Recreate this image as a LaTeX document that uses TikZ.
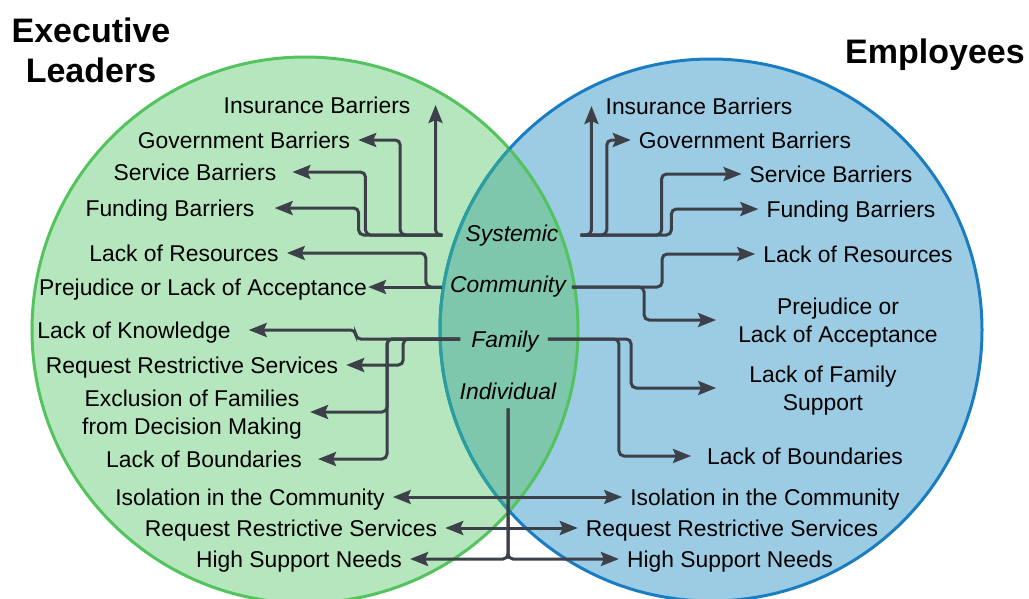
\documentclass[tikz,border=0pt]{standalone}
\usepackage{fontspec}
\setmainfont{Liberation Sans}
\usetikzlibrary{arrows.meta}

\definecolor{leadfill}{HTML}{B6E6BD}
\definecolor{leadline}{HTML}{52C35D}
\definecolor{empfill}{HTML}{9CCBE4}
\definecolor{empline}{HTML}{1B7DC1}
\definecolor{bothfill}{HTML}{7EC7AD}
\definecolor{bothline}{HTML}{2A9FA0}
\definecolor{linegray}{HTML}{3C4049}

\tikzset{
  lbl/.style={font=\fontsize{22.85}{27.5}\selectfont, inner xsep=8pt, inner ysep=2pt,
    text depth=0pt, align=center},
  cat/.style={font=\fontsize{22.85}{27.5}\selectfont\itshape, inner sep=0pt, text depth=0pt},
  ttl/.style={font=\fontsize{34}{40}\selectfont\bfseries, align=center},
  conn/.style={draw=linegray, line width=3pt, rounded corners=5pt,
    -{Stealth[length=18pt,width=14pt,inset=3pt]}},
}

\begin{document}
\begin{tikzpicture}[x=1pt,y=-1pt]
\useasboundingbox (0,0) rectangle (1029,598);

% circles
\fill[leadfill] (305,330) circle (273);
\fill[empfill] (711,330) circle (271);
\begin{scope}
  \clip (305,330) circle (273);
  \fill[bothfill] (711,330) circle (271);
\end{scope}
\draw[leadline, line width=3pt] (305,330) circle (273);
\draw[empline, line width=3pt] (711,330) circle (271);
\begin{scope}
  \clip (305,330) circle (273);
  \draw[bothline, line width=3pt] (711,330) circle (271);
\end{scope}

% titles
\node[ttl] (lead) at (91,50) {Executive\\Leaders};
\node[ttl] (emp) at (935,55) {Employees};

% levels
\node[cat] (sys) at (512,233) {Systemic};
\node[cat] (com) at (508,284) {Community};
\node[cat] (fam) at (505,339) {Family};
\node[cat] (ind) at (508,391) {Individual};

% leaders side
\node[lbl] (lIns) at (317,105) {Insurance Barriers};
\node[lbl] (lGov) at (244,140) {Government Barriers};
\node[lbl, inner xsep=16pt] (lServ) at (195,172) {Service Barriers};
\node[lbl, inner xsep=20pt] (lFund) at (170,208) {Funding Barriers};
\node[lbl] (lRes) at (184,253) {Lack of Resources};
\node[lbl, inner xsep=1pt] (lPrej) at (203,287) {Prejudice or Lack of Acceptance};
\node[lbl, inner xsep=18pt] (lKnow) at (134,330) {Lack of Knowledge};
\node[lbl] (lReq) at (192,365) {Request Restrictive Services};
\node[lbl] (lExc) at (192,412) {Exclusion of Families\\from Decision Making};
\node[lbl, inner xsep=16pt] (lBnd) at (204,459) {Lack of Boundaries};
\node[lbl] (lIso) at (250,497) {Isolation in the Community};
\node[lbl] (lRst) at (291,528) {Request Restrictive Services};
\node[lbl] (lHigh) at (299,559) {High Support Needs};

% employees side
\node[lbl] (rIns) at (699,106) {Insurance Barriers};
\node[lbl] (rGov) at (745,140) {Government Barriers};
\node[lbl] (rServ) at (831,174) {Service Barriers};
\node[lbl] (rFund) at (851,209) {Funding Barriers};
\node[lbl] (rRes) at (858,254) {Lack of Resources};
\node[lbl, inner xsep=22pt] (rPrej) at (838,320) {Prejudice or\\Lack of Acceptance};
\node[lbl, inner xsep=33pt] (rFam) at (823,388) {Lack of Family\\Support};
\node[lbl, inner xsep=16pt] (rBnd) at (805,456) {Lack of Boundaries};
\node[lbl] (rIso) at (765,497) {Isolation in the Community};
\node[lbl] (rRst) at (732,528) {Request Restrictive Services};
\node[lbl] (rHigh) at (730,559) {High Support Needs};

% start points
\coordinate (sysW) at ([xshift=-23pt,yshift=-2pt]sys.west);
\coordinate (sysE) at ([xshift=22pt,yshift=-2pt]sys.east);
\coordinate (comW) at ([xshift=-8pt,yshift=-3pt]com.west);
\coordinate (comE) at ([xshift=6pt,yshift=-3pt]com.east);
\coordinate (famW) at ([xshift=-11pt]fam.west);
\coordinate (famE) at ([xshift=9pt]fam.east);
\coordinate (indS) at ([yshift=-9pt]ind.south);

% systemic
\draw[conn] (sysW) -| ([xshift=17pt]lIns.east);
\draw[conn] (sysW) -| ([xshift=42pt]lGov.east) -- (lGov);
\draw[conn] (sysW) -| ([xshift=73pt]lServ.east) -- (lServ);
\draw[conn] (sysW) -| ([xshift=84pt]lFund.east) -- (lFund);
\draw[conn] (sysE) -| ([xshift=-6pt]rIns.west);
\draw[conn] (sysE) -| ([xshift=-24pt]rGov.west) -- (rGov);
\draw[conn] (sysE) -| ([xshift=-80pt]rServ.west) -- (rServ);
\draw[conn] (sysE) -| ([xshift=-87pt]rFund.west) -- (rFund);

% community
\draw[conn] (comW) -- (comW -| lPrej.east);
\draw[conn] (comW) -| ([xshift=139pt]lRes.east) -- (lRes);
\draw[conn] (comE) -| ([xshift=-93pt]rRes.west) -- (rRes);
\draw[conn] (comE) -| ([xshift=-72pt]rPrej.west) -- (rPrej);

% family
\draw[conn] (famW) -| ([xshift=107pt]lKnow.east) -- (lKnow);
\draw[conn] (famW) -| ([xshift=57pt]lReq.east) -- (lReq);
\draw[conn] (famW) -| ([xshift=77pt]lExc.east) -- (lExc);
\draw[conn] (famW) -| ([xshift=69pt]lBnd.east) -- (lBnd);
\draw[conn] (famE) -| ([xshift=-85pt]rFam.west) -- (rFam);
\draw[conn] (famE) -| ([xshift=-72pt]rBnd.west) -- (rBnd);

% individual
\coordinate (isoJ) at (indS |- lIso);
\coordinate (rstJ) at (indS |- lRst);
\draw[conn] (indS) |- (lHigh);
\draw[conn] (indS) |- (rHigh);
\draw[conn] (isoJ) -- (lIso);
\draw[conn] (isoJ) -- (rIso);
\draw[conn] (rstJ) -- (lRst);
\draw[conn] (rstJ) -- (rRst);
\end{tikzpicture}
\end{document}
